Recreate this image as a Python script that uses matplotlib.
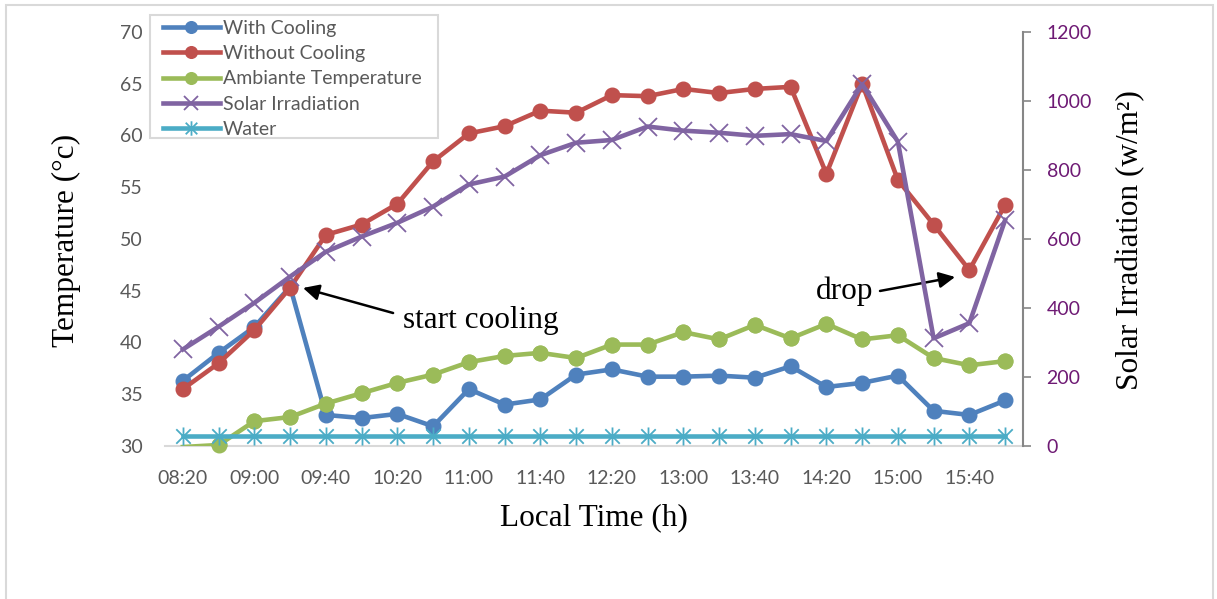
import matplotlib
matplotlib.use("Agg")
import matplotlib.pyplot as plt
from matplotlib.path import Path
from matplotlib.patches import Rectangle

# ---- data -------------------------------------------------------------
times = ["08:20", "08:40", "09:00", "09:20", "09:40", "10:00", "10:20", "10:40",
         "11:00", "11:20", "11:40", "12:00", "12:20", "12:40", "13:00", "13:20",
         "13:40", "14:00", "14:20", "14:40", "15:00", "15:20", "15:40", "16:00"]

with_cooling = [36.3, 39.0, 41.5, 45.4, 33.0, 32.7, 33.1, 31.9,
                35.5, 34.0, 34.5, 36.9, 37.4, 36.7, 36.7, 36.8,
                36.6, 37.7, 35.7, 36.1, 36.8, 33.4, 33.0, 34.4]

without_cooling = [35.5, 38.0, 41.2, 45.3, 50.4, 51.4, 53.4, 57.5,
                   60.2, 60.9, 62.4, 62.2, 63.9, 63.8, 64.5, 64.1,
                   64.5, 64.7, 56.3, 65.0, 55.7, 51.4, 47.0, 53.3]

ambient = [29.9, 30.1, 32.4, 32.8, 34.1, 35.1, 36.1, 36.9,
           38.1, 38.7, 39.0, 38.5, 39.8, 39.8, 41.0, 40.3,
           41.7, 40.4, 41.8, 40.3, 40.7, 38.5, 37.8, 38.2]

solar = [280, 346, 415, 491, 563, 607, 647, 694,
         758, 781, 843, 879, 887, 926, 914, 908,
         899, 904, 884, 1049, 882, 312, 356, 655]

water = [31.0, 31.0, 31.0, 31.0, 31.0, 31.0, 31.0, 31.0,
         31.0, 31.0, 31.0, 31.0, 31.0, 31.0, 31.0, 31.0,
         31.0, 31.0, 31.0, 31.0, 31.0, 31.0, 31.0, 31.0]

temp_ticks = [30, 35, 40, 45, 50, 55, 60, 65, 70]
irr_ticks = [0, 200, 400, 600, 800, 1000, 1200]

# ---- style ------------------------------------------------------------
C_BLUE = "#4F81BD"
C_RED = "#C0504D"
C_GREEN = "#9BBB59"
C_PURPLE = "#8064A2"
C_WATER = "#4BACC6"
C_TICK = "#595959"
C_RIGHT = "#6E1A74"
SANS = ["Lato", "DejaVu Sans"]
SERIF = ["Liberation Serif", "DejaVu Serif"]

# asterisk-style marker: an X with a vertical stroke
star_path = Path(
    [(-1, -1), (1, 1), (-1, 1), (1, -1), (0, -1.25), (0, 1.25)],
    [Path.MOVETO, Path.LINETO, Path.MOVETO, Path.LINETO, Path.MOVETO, Path.LINETO],
)

W, H = 1217, 599
fig = plt.figure(figsize=(W / 100, H / 100), dpi=100)
fig.patch.set_facecolor("white")

ax = fig.add_axes([165 / W, 1 - 446 / H, (1023 - 165) / W, (446 - 32) / H])
ax2 = ax.twinx()

x = list(range(len(times)))
lw = 3.3
ms = 10.5

ymin, ymax = 30, 70
l1, = ax.plot(x, with_cooling, color=C_BLUE, lw=lw, marker="o", ms=ms,
              label="With Cooling", zorder=3)
l2, = ax.plot(x, without_cooling, color=C_RED, lw=lw, marker="o", ms=ms,
              label="Without Cooling", zorder=4)
amb_marks = [i for i, v in enumerate(ambient) if v >= ymin]
l3, = ax.plot(x, ambient, color=C_GREEN, lw=lw, marker="o", ms=ms,
              markevery=amb_marks, label="Ambiante Temperature", zorder=5)
# keep in-range markers whole even when they sit on the bottom edge
ax.plot(x, ambient, ls="none", color=C_GREEN, marker="o", ms=ms,
        markevery=amb_marks, clip_on=False, zorder=5)
l5, = ax.plot(x, water, color=C_WATER, lw=lw, marker=star_path, ms=13,
              mew=1.3, mec=C_WATER, label="Water", zorder=6)
l4, = ax2.plot(x, solar, color=C_PURPLE, lw=lw, marker="x", ms=13,
               mew=1.3, label="Solar Irradiation", zorder=3)

ax.set_xlim(-0.5, len(times) - 0.5)
ax.set_ylim(ymin, ymax)
ax2.set_ylim(0, 1200)

ax.set_yticks(temp_ticks)
ax.set_xticks(x[::2])
ax.set_xticklabels(times[::2])
ax2.set_yticks(irr_ticks)

for s in ["top", "left", "right"]:
    ax.spines[s].set_visible(False)
for s in ["top", "left", "bottom"]:
    ax2.spines[s].set_visible(False)
ax.spines["bottom"].set_color("#D9D9D9")
ax.spines["bottom"].set_linewidth(1.5)
ax2.spines["right"].set_color("#868686")
ax2.spines["right"].set_linewidth(1.5)

ax.tick_params(axis="y", length=0, pad=16, labelsize=14, labelcolor=C_TICK)
ax.tick_params(axis="x", length=0, pad=17.5, labelsize=14, labelcolor=C_TICK)
ax2.tick_params(axis="y", length=6, width=1.2, color="#868686", pad=11,
                labelsize=14, labelcolor=C_RIGHT)
for lab in ax.get_xticklabels() + ax.get_yticklabels() + ax2.get_yticklabels():
    lab.set_family(SANS)

# axis titles
fig.text(66 / W, 1 - 240 / H, "Temperature (°c)", rotation=90, ha="center",
         va="center", family=SERIF, fontsize=22.5)
fig.text(1131 / W, 1 - 240 / H, "Solar Irradiation (w/m²)", rotation=90,
         ha="center", va="center", family=SERIF, fontsize=22.5)
fig.text(594 / W, 1 - 518 / H, "Local Time (h)", ha="center", va="center",
         family=SERIF, fontsize=22.5)

# annotations
arrow = dict(arrowstyle="-|>", color="black", lw=1.8, mutation_scale=24,
             shrinkA=0, shrinkB=0)
ax.annotate("", xy=(3.36, 45.27), xytext=(5.88, 42.85), arrowprops=arrow, zorder=8)
ax.text(6.16, 42.1, "start cooling", ha="left", va="center", family=SERIF,
        fontsize=22.5, zorder=8)
ax.annotate("", xy=(21.6, 46.33), xytext=(19.5, 44.98), arrowprops=arrow, zorder=8)
ax.text(19.31, 44.95, "drop", ha="right", va="center", family=SERIF,
        fontsize=22.5, zorder=8)

# legend (frame drawn separately as a plain box)
handles = [l1, l2, l3, l4, l5]
leg = fig.legend(handles, [h.get_label() for h in handles], loc="upper left",
                 bbox_to_anchor=(163 / W, 1 - 20 / H), bbox_transform=fig.transFigure,
                 borderaxespad=0, frameon=False, handlelength=2.93,
                 handletextpad=0.15, labelspacing=0.42, borderpad=0,
                 prop={"family": SANS, "size": 14}, markerscale=0.8)
for t in leg.get_texts():
    t.set_color(C_TICK)
fig.patches.append(Rectangle((150 / W, 1 - 138 / H), (438 - 150) / W, (138 - 15) / H,
                             transform=fig.transFigure, facecolor="white",
                             edgecolor="#D9D9D9", lw=1.5, zorder=9))
leg.set_zorder(10)

# outer frame of the figure
fig.patches.append(Rectangle((6 / W, -0.02), (1213 - 6) / W, 1.02 - 5 / H,
                             transform=fig.transFigure, fill=False,
                             edgecolor="#D9D9D9", lw=1.5))

fig.savefig("out.png", dpi=100)
